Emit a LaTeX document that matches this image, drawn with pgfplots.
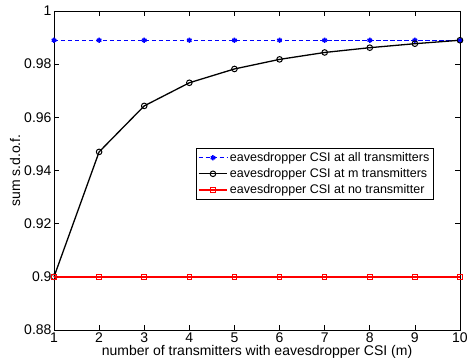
\documentclass[border=0pt]{standalone}
\usepackage{fontspec}
\setmainfont{Liberation Sans}
\usepackage{pgfplots}
\pgfplotsset{compat=1.18}
\begin{document}
\begin{tikzpicture}[x=1pt,y=1pt]
\begin{axis}[name=ax,
  scale only axis, width=406pt, height=319pt,
  xmin=1, xmax=10, ymin=0.88, ymax=1,
  xtick={1,...,10}, ytick={0.88,0.9,0.92,0.94,0.96,0.98,1},
  yticklabels={0.88,0.9,0.92,0.94,0.96,0.98,1},
  tick align=inside, tick pos=both,
  major tick length=5pt,
  axis line style={line width=0.8pt},
  every tick/.style={line width=0.6pt, black},
  /pgf/number format/assume math mode=true,
  tick label style={font=\fontsize{14}{16}\selectfont},
  yticklabel style={xshift=1pt},
  xticklabel style={yshift=1pt},
  label style={font=\fontsize{14}{16}\selectfont},
  xlabel={number of transmitters with eavesdropper CSI (m)},
  ylabel={sum s.d.o.f.},
  xlabel style={at={(axis description cs:0.5,-0.069)}, anchor=center},
  ylabel style={at={(axis description cs:-0.096,0.5)}, anchor=center},
  legend style={at={(0.349,0.57)}, anchor=north west, font=\fontsize{12.5}{14}\selectfont,
    draw=black, line width=0.6pt, inner xsep=2pt, inner ysep=2pt, row sep=1.5pt},
  legend cell align=left,
  legend image code/.code={\draw[mark repeat=2,mark phase=2,#1] plot coordinates {(0cm,0cm) (0.5cm,0cm) (1.0cm,0cm)};},
  clip=false,
]
\addplot[blue, line width=1.3pt, dashed, dash pattern=on 4.5pt off 2.5pt, mark=asterisk, mark size=2.6pt, mark options={solid, line width=1.5pt}]
  coordinates {(1,0.989)(2,0.989)(3,0.989)(4,0.989)(5,0.989)(6,0.989)(7,0.989)(8,0.989)(9,0.989)(10,0.989)};
\addlegendentry{eavesdropper CSI at all transmitters}
\addplot[black, line width=1.3pt, mark=o, mark size=2.8pt, mark options={solid, line width=1pt}]
  coordinates {(1,0.9)(2,0.947)(3,0.9643)(4,0.973)(5,0.9782)(6,0.9818)(7,0.9844)(8,0.9862)(9,0.9877)(10,0.989)};
\addlegendentry{eavesdropper CSI at m transmitters}
\addplot[red, line width=1.5pt, mark=square, mark size=2.3pt, mark options={solid, line width=1pt}]
  coordinates {(1,0.9)(2,0.9)(3,0.9)(4,0.9)(5,0.9)(6,0.9)(7,0.9)(8,0.9)(9,0.9)(10,0.9)};
\addlegendentry{eavesdropper CSI at no transmitter}
\end{axis}
\pgfresetboundingbox
\path[use as bounding box] (ax.south west) ++(-54pt,-32pt) rectangle ++(467pt,362pt);
\end{tikzpicture}
\end{document}
